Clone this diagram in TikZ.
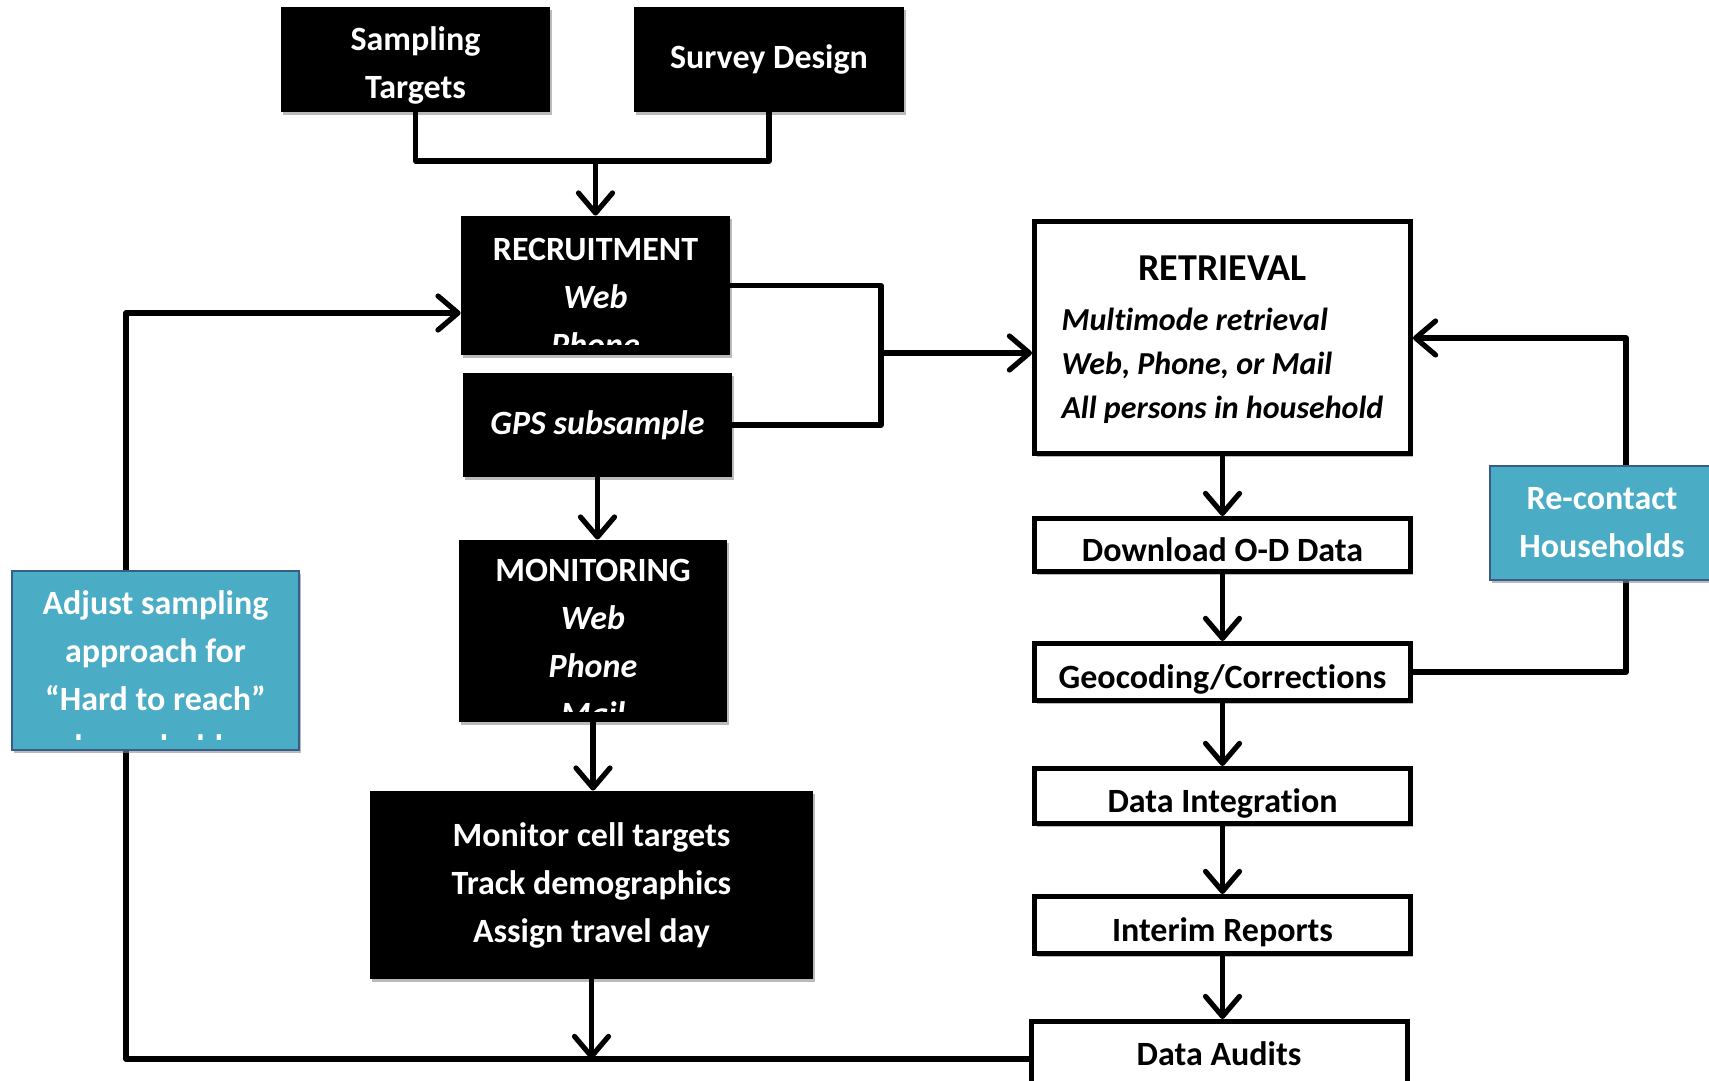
\documentclass[tikz,border=0pt]{standalone}
\usepackage{fontspec}
\setmainfont{Carlito}[Ligatures={TeX,NoCommon}]
\usepackage{xcolor}
\usepackage{tikz}
\usetikzlibrary{arrows.meta,shadows}
\definecolor{ink}{RGB}{0,0,0}
\definecolor{sky}{RGB}{75,172,198}
\definecolor{skyedge}{RGB}{56,93,138}
\newcommand{\flowfont}{\fontsize{17}{24}\selectfont\bfseries}
\newcommand{\tightfont}{\fontsize{17}{23}\selectfont\bfseries}
\tikzset{
  flow/.style={line width=2.6pt,ink,line cap=round,line join=round},
  flowarrow/.style={flow,-{Straight Barb[length=10pt,width=17pt,round]}},
  boxshadow/.style={drop shadow={shadow xshift=1pt,shadow yshift=-1.5pt,fill=black!45,opacity=0.6}},
  darkbox/.style={rectangle,fill=ink,text=white,font=\flowfont,align=center,inner sep=0pt,boxshadow},
  lightbox/.style={rectangle,draw=ink,line width=2.5pt,fill=white,text=ink,font=\flowfont,align=center,
    inner sep=0pt,text height=16pt,text depth=0pt,boxshadow},
  notebox/.style={rectangle,draw=skyedge,line width=0.8pt,fill=sky,text=white,font=\flowfont,align=center,inner sep=0pt,boxshadow},
  clipped/.style 2 args={path picture={
    \clip ([yshift=5.5pt]path picture bounding box.south west) rectangle (path picture bounding box.north east);
    \node[anchor=north,align=center,inner sep=0pt,text=white,font=\flowfont]
      at ([yshift=-#1]path picture bounding box.north) {#2};}}
}

\begin{document}
\begin{tikzpicture}[x=0.5pt,y=-0.5pt]
  \fill[white] (0,0) rectangle (1709,1081);
  \path[use as bounding box,clip] (0,0) rectangle (1709,1081);
  % planning
  \node[darkbox,minimum width=134.5pt,minimum height=52.5pt] (targets) at (415.5,59.5)
    {\raisebox{-2.5pt}[\height][\depth]{\begin{tabular}{@{}c@{}}Sampling\\Targets\end{tabular}}};
  \node[darkbox,minimum width=135pt,minimum height=52.5pt] (design) at (769,59.5) {Survey Design};
  % field work
  \node[darkbox,minimum width=134.5pt,minimum height=69.5pt,
    clipped={5.8pt}{\tightfont RECRUITMENT\\\textit{Web}\\\textit{Phone}}] (recruit) at (595.5,285.5) {};
  \node[darkbox,minimum width=134.5pt,minimum height=52pt] (gps) at (597.5,425) {\textit{GPS subsample}};
  \node[darkbox,minimum width=134pt,minimum height=91pt,
    clipped={5.5pt}{MONITORING\\\textit{Web}\\\textit{Phone}\\\textit{Mail}}] (monitor) at (593,631) {};
  \node[darkbox,minimum width=221.5pt,minimum height=94pt] (cells) at (591.5,885)
    {Monitor cell targets\\Track demographics\\Assign travel day};
  % data processing
  \node[lightbox,minimum width=188pt,minimum height=116pt,text height=,text depth=] (retrieval) at (1222.5,337.5)
    {\fontsize{16}{22}\selectfont\raisebox{-1.6pt}[\height][\depth]{\begin{tabular}{@{}l@{}}\multicolumn{1}{@{}c@{}}{\fontsize{19}{23}\selectfont RETRIEVAL}\\[3pt]
     \textit{Multimode retrieval}\\\textit{Web, Phone, or Mail}\\\textit{All persons in household}\end{tabular}}};
  \node[lightbox,minimum width=188pt,minimum height=26.5pt] (download) at (1222.5,545) {Download O-D Data};
  \node[lightbox,minimum width=188pt,minimum height=28.5pt] (geocode) at (1222.5,672) {Geocoding/Corrections};
  \node[lightbox,minimum width=188pt,minimum height=27.5pt] (integ) at (1222.5,796) {Data Integration};
  \node[lightbox,minimum width=188pt,minimum height=28.5pt] (interim) at (1222.5,925) {Interim Reports};
  \node[lightbox,minimum width=188pt,minimum height=37.5pt,text height=6pt] (audits) at (1219,1059) {Data Audits};
  % connectors
  \coordinate (merge) at (595.5,161);
  \draw[flow] (targets.south) |- (merge) -| (design.south);
  \draw[flowarrow] (merge) -- (recruit.north);
  \coordinate (fork) at (881,353);
  \draw[flow] (recruit.east) -| (fork) |- (gps.east);
  \draw[flowarrow] (fork) -- (fork -| retrieval.west);
  \draw[flowarrow] (gps.south) -- (gps.south |- monitor.north);
  \draw[flowarrow] (monitor.south) -- (monitor.south |- cells.north);
  \draw[flowarrow] (cells.south) -- (cells.south |- audits.west);
  \draw[flowarrow] (retrieval.south) -- (download.north);
  \draw[flowarrow] (download.south) -- (geocode.north);
  \draw[flowarrow] (geocode.south) -- (integ.north);
  \draw[flowarrow] (integ.south) -- (interim.north);
  \draw[flowarrow] (interim.south) -- (interim.south |- audits.north);
  \coordinate (loopright) at (1626,338);
  \draw[flowarrow] (geocode.east) -| (loopright) -- (loopright -| retrieval.east);
  \coordinate (loopleft) at (126,313);
  \draw[flowarrow] (audits.west) -| (loopleft) -- (loopleft -| recruit.west);
  % feedback notes
  \node[notebox,minimum width=143.5pt,minimum height=89.5pt,
    clipped={6.8pt}{Adjust sampling\\approach for\\“Hard to reach”\\households}] (adjust) at (155.5,660.5) {};
  \node[notebox,minimum width=112pt,minimum height=57pt] (recontact) at (1602,523) {Re-contact\\Households};
\end{tikzpicture}
\end{document}
